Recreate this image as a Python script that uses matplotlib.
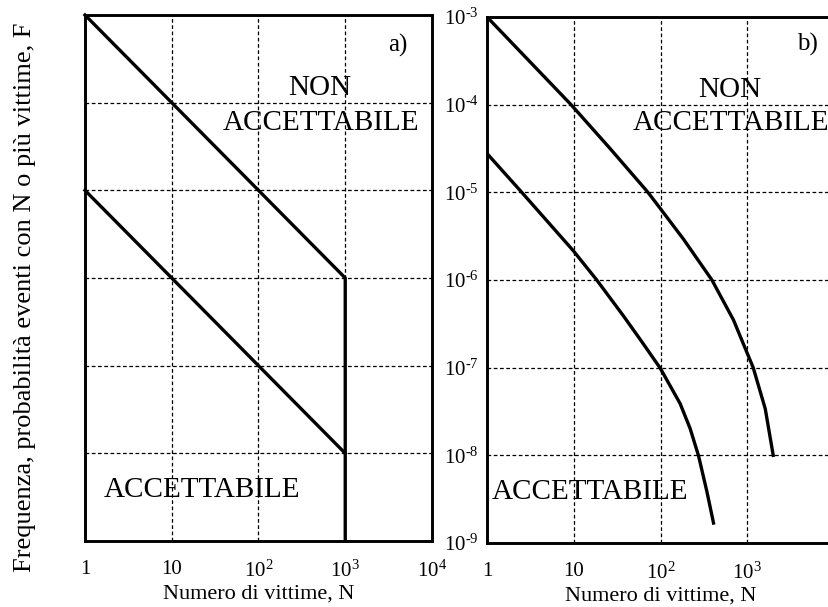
import numpy as np
import matplotlib.pyplot as plt
from matplotlib.ticker import FixedLocator, NullLocator

plt.rcParams['font.family'] = ['Liberation Serif', 'DejaVu Serif']
plt.rcParams['mathtext.fontset'] = 'custom'
plt.rcParams['mathtext.rm'] = 'Liberation Serif'

# a) criteri a gradini: limiti superiore e inferiore
a_upper_N = [1, 1000, 1000]
a_upper_F = [1e-3, 1e-6, 1e-9]
a_lower_N = [1, 1000]
a_lower_F = [1e-5, 1e-8]

# b) curve F-N
b_upper_N = [1, 9.3, 26.2, 71, 101, 184, 391, 693, 1170, 1610, 1990]
b_upper_F = [1e-3, 1.0e-4, 3.16e-5, 1.01e-5, 6.4e-6, 2.92e-6, 1.0e-6, 3.5e-7, 1e-7, 3.4e-8, 1e-8]
b_lower_N = [1, 2.47, 9.9, 18.4, 37.3, 59.7, 99, 168, 219, 274, 342, 408]
b_lower_F = [2.77e-5, 1.02e-5, 2.15e-6, 1.0e-6, 3.9e-7, 2.03e-7, 9.9e-8, 3.9e-8, 2.03e-8, 9.9e-9, 3.87e-9, 1.69e-9]

x_ticks = [1, 10, 100, 1000, 10000]
x_labels = ['1', '10', r'$\mathregular{10^{2}}$', r'$\mathregular{10^{3}}$', r'$\mathregular{10^{4}}$']
y_ticks = [1e-9, 1e-8, 1e-7, 1e-6, 1e-5, 1e-4, 1e-3]
y_labels = [r'$\mathregular{10^{\text{-}%d}}$' % k for k in range(9, 2, -1)]

fig = plt.figure(figsize=(8.29, 6.07), dpi=100)
ax_a = fig.add_axes([0.1025, 0.1087, 0.4186, 0.8666])
ax_b = fig.add_axes([0.5875, 0.1054, 0.4186, 0.8666])


def style_axes(ax, nx):
    ax.set_xscale('log')
    ax.set_yscale('log')
    ax.set_xlim(1, 1e4)
    ax.set_ylim(1e-9, 1e-3)
    ax.xaxis.set_major_locator(FixedLocator(x_ticks[:nx]))
    ax.set_xticklabels(x_labels[:nx])
    ax.xaxis.set_minor_locator(NullLocator())
    ax.yaxis.set_minor_locator(NullLocator())
    ax.yaxis.set_major_locator(FixedLocator(y_ticks))
    ax.tick_params(length=0, labelsize=15, pad=14)
    ax.tick_params(axis='y', pad=6)
    ax.grid(True, color='black', linestyle=(0, (3, 2)), linewidth=0.9)
    for s in ax.spines.values():
        s.set_linewidth(2.1)
    ax.set_xlabel('Numero di vittime, N', fontsize=16, labelpad=2)


style_axes(ax_a, 5)
ax_a.set_yticklabels([])
style_axes(ax_b, 4)
ax_b.set_yticklabels(y_labels)

lw = 2.4
ax_a.plot(a_upper_N, a_upper_F, color='black', linewidth=lw, clip_on=False)
ax_a.plot(a_lower_N, a_lower_F, color='black', linewidth=lw, clip_on=False)
ax_b.plot(b_upper_N, b_upper_F, color='black', linewidth=lw, solid_joinstyle='round')
ax_b.plot(b_lower_N, b_lower_F, color='black', linewidth=lw, solid_joinstyle='round')

txt = dict(ha='center', va='center', fontsize=21)
ax_a.text(0.902, 0.943, 'a)', transform=ax_a.transAxes, ha='center', va='center', fontsize=18)
ax_a.text(0.677, 0.861, 'NON', transform=ax_a.transAxes, **txt)
ax_a.text(0.680, 0.795, 'ACCETTABILE', transform=ax_a.transAxes, **txt)
ax_a.text(0.337, 0.097, 'ACCETTABILE', transform=ax_a.transAxes, **txt)

ax_b.text(0.922, 0.947, 'b)', transform=ax_b.transAxes, ha='center', va='center', fontsize=18)
ax_b.text(0.700, 0.861, 'NON', transform=ax_b.transAxes, **txt)
ax_b.text(0.703, 0.798, 'ACCETTABILE', transform=ax_b.transAxes, **txt)
ax_b.text(0.297, 0.097, 'ACCETTABILE', transform=ax_b.transAxes, **txt)

fig.text(0.030, 0.51, 'Frequenza, probabilità eventi con N o più vittime, F',
         rotation=90, ha='center', va='center', fontsize=19)

fig.savefig('out.png', dpi=100)
